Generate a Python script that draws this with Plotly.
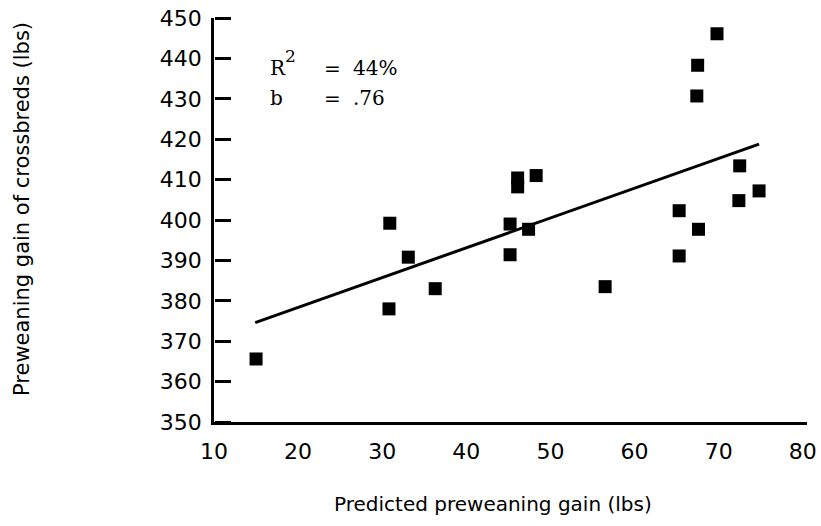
import plotly.graph_objects as go

# Data
predicted_gain = [15.0, 30.9, 30.8, 33.1, 36.3, 45.2, 45.2, 47.4, 46.1, 46.1, 48.3,
                  56.5, 65.3, 65.3, 67.6, 67.4, 67.5, 69.8, 72.5, 72.4, 74.8]
crossbred_gain = [365.6, 399.2, 378.0, 390.8, 383.0, 399.0, 391.4, 397.7, 410.4, 408.2, 411.0,
                  383.5, 402.3, 391.1, 397.7, 430.7, 438.3, 446.1, 413.4, 404.8, 407.2]
fit_x = [14.9, 74.8]
fit_y = [374.6, 418.8]

x_ticks = [10, 20, 30, 40, 50, 60, 70, 80]
y_ticks = [350, 360, 370, 380, 390, 400, 410, 420, 430, 440, 450]

W, H = 821, 526
ML, MR, MT, MB = 214, 14, 18, 104
PW, PH = W - ML - MR, H - MT - MB


def px_x(p):
    return (p - ML) / PW


def px_y(p):
    return (H - MB - p) / PH


fig = go.Figure()
fig.add_trace(go.Scatter(x=fit_x, y=fit_y, mode="lines",
                         line=dict(color="black", width=3), showlegend=False))
fig.add_trace(go.Scatter(x=predicted_gain, y=crossbred_gain, mode="markers",
                         marker=dict(symbol="square", size=13, color="black"),
                         showlegend=False))
# invisible trace on the second y-axis so that it is drawn (tick marks only)
fig.add_trace(go.Scatter(x=[None], y=[None], yaxis="y2", showlegend=False,
                         hoverinfo="skip"))

tick_font = dict(family="DejaVu Sans", size=22, color="black")
xtitle_font = dict(family="DejaVu Sans", size=20, color="black")
ytitle_font = dict(family="DejaVu Sans", size=21, color="black")
serif = dict(family="DejaVu Serif", size=20, color="black")
sup = dict(family="DejaVu Serif", size=17, color="black")


def note(text, x, y, font):
    return dict(text=text, xref="paper", yref="paper", x=px_x(x), y=px_y(y),
                xanchor="left", yanchor="middle", showarrow=False, font=font)


fig.update_layout(
    width=W, height=H,
    margin=dict(l=ML, r=MR, t=MT, b=MB, autoexpand=False),
    plot_bgcolor="white", paper_bgcolor="white",
    xaxis=dict(range=[10, 80.5], tickvals=x_ticks, ticks="", showgrid=False,
               zeroline=False, showline=True, linecolor="black", linewidth=3,
               tickfont=tick_font, ticklabelstandoff=8, automargin=False),
    yaxis=dict(range=[350, 450], tickvals=y_ticks, ticks="", showgrid=False,
               zeroline=False, showline=True, linecolor="black", linewidth=2.5,
               tickfont=tick_font, ticklabelstandoff=5, automargin=False),
    yaxis2=dict(range=[350, 450], tickvals=y_ticks, overlaying="y", side="right",
                anchor="free", position=0, ticks="outside", ticklen=16, tickwidth=3,
                tickcolor="black", showticklabels=False, showgrid=False,
                zeroline=False, showline=False, automargin=False),
    annotations=[
        dict(text="Predicted preweaning gain (lbs)", xref="paper", yref="paper",
             x=px_x(493), y=px_y(504), xanchor="center", yanchor="middle",
             showarrow=False, font=xtitle_font),
        dict(text="Preweaning gain of crossbreds (lbs)", xref="paper", yref="paper",
             x=px_x(22), y=px_y(209), xanchor="center", yanchor="middle",
             textangle=-90, showarrow=False, font=ytitle_font),
        note("R", 268, 68, serif),
        note("2", 283, 56, sup),
        note("=", 322, 69, serif),
        note("44%", 351, 68, serif),
        note("b", 268, 98, serif),
        note("=", 322, 99, serif),
        note(".76", 351, 98, serif),
    ],
)

fig.write_html("out.html", config={"displayModeBar": False},
               post_script="document.body.style.margin='0px';")
